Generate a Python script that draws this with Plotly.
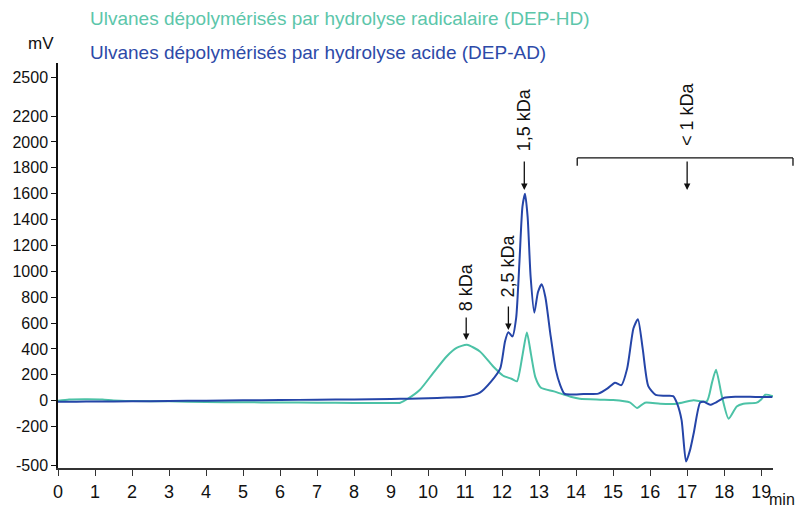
import plotly.graph_objects as go

# ---- data ----
t_ad = [0, 0.5, 1, 2, 3, 4, 5, 6, 7, 8, 9, 9.5, 10, 10.5, 11.0, 11.4, 11.7, 11.95, 12.08, 12.17, 12.28,
        12.38, 12.47, 12.55, 12.62, 12.69, 12.77, 12.87, 12.97, 13.07, 13.17, 13.3, 13.45, 13.57, 13.68,
        13.85, 14.2, 14.6, 14.85, 15.05, 15.22, 15.38, 15.55, 15.67, 15.8, 15.95, 16.15, 16.4, 16.62,
        16.72, 16.85, 16.97, 17.08, 17.18, 17.35, 17.45, 17.62, 17.8, 18.0, 18.3, 18.7, 19.0, 19.3]
v_ad = [-8, -8, -6, -5, -2, 0, 3, 5, 8, 10, 14, 16, 20, 24, 30, 62, 147, 250, 460, 530, 497,
        640, 1080, 1500, 1600, 1420, 960, 680, 840, 900, 800, 525, 240, 120, 55,
        48, 52, 55, 95, 139, 120, 250, 560, 630, 400, 113, 45, 38, 36,
        -15, -150, -470, -380, -247, -15, -8, -31, -10, 23, 31, 30, 29, 28]

t_hd = [0, 0.3, 0.8, 1.2, 1.5, 2, 3, 4, 5, 6, 7, 8, 9, 9.25, 9.45, 9.78, 10.14, 10.5, 10.77, 11.05,
        11.4, 11.76, 12.03, 12.25, 12.4, 12.55, 12.67, 12.78, 12.9, 13.05, 13.4, 13.85, 14.1, 14.65,
        15.0, 15.45, 15.65, 15.86, 16.27, 16.72, 17.17, 17.53, 17.67, 17.78, 17.94, 18.12, 18.34,
        18.52, 18.88, 19.0, 19.11, 19.2, 19.33]
v_hd = [0, 10, 12, 10, 2, -2, -5, -10, -12, -14, -15, -18, -18, -15, 15, 85, 215, 342, 408, 432,
        381, 265, 193, 170, 150, 350, 528, 360, 180, 100, 72, 31, 15, 8,
        5, -13, -56, -15, -23, -23, 3, -5, 138, 240, 33, -139, -44,
        -23, -15, 10, 46, 45, 33]

x_ticks = list(range(0, 20))
y_ticks = [-500, -200, 0, 200, 400, 600, 800, 1000, 1200, 1400, 1600, 1800, 2000, 2200, 2500]

name_hd = "Ulvanes dépolymérisés par hydrolyse radicalaire (DEP-HD)"
name_ad = "Ulvanes dépolymérisés par hydrolyse acide (DEP-AD)"

peaks = [("8 kDa", 11.03, 879, 469, -24),
         ("2,5 kDa", 12.17, 1041, 547, -25),
         ("1,5 kDa", 12.60, 2170, 1629, -30)]

col_hd = "#4cc2a6"
col_ad = "#2545a8"
FONT = "Liberation Sans, Arial, sans-serif"
NARROW = "Liberation Sans Narrow, Arial Narrow, Liberation Sans, sans-serif"

x_range = [0, 19.32]
y_range = [-520, 2610]

fig = go.Figure()
fig.add_trace(go.Scatter(x=t_hd, y=v_hd, mode="lines", line=dict(color=col_hd, width=2, shape="spline", smoothing=0.6),
                         name=name_hd, hoverinfo="skip"))
fig.add_trace(go.Scatter(x=t_ad, y=v_ad, mode="lines", line=dict(color=col_ad, width=2, shape="spline", smoothing=0.6),
                         name=name_ad, hoverinfo="skip"))

ann = []
for txt, x, ytxt, yhead, off in peaks:
    ann.append(dict(x=x, y=ytxt, text=txt, textangle=-90, showarrow=False, xref="x", yref="y",
                    font=dict(size=18, color="#111")))
    ann.append(dict(x=x, y=yhead, text="", showarrow=True, ax=0, ay=off, xref="x", yref="y",
                    arrowhead=2, arrowsize=1, arrowwidth=1.3, arrowcolor="#111"))

# < 1 kDa bracket
lt_x = 17.0
ann.append(dict(x=lt_x, y=2216, text="< 1 kDa", textangle=-90, showarrow=False, xref="x", yref="y",
                font=dict(size=18, color="#111")))
ann.append(dict(x=lt_x, y=1629, text="", showarrow=True, ax=0, ay=-30, xref="x", yref="y",
                arrowhead=2, arrowsize=1, arrowwidth=1.3, arrowcolor="#111"))

def px(t):
    return (t - x_range[0]) / (x_range[1] - x_range[0])

br_l, br_r, br_y, br_y2 = 14.03, 19.86, 1876, 1815
shapes = [
    dict(type="line", xref="paper", yref="y", x0=px(br_l), x1=px(br_r), y0=br_y, y1=br_y, line=dict(color="#111", width=1.3)),
    dict(type="line", xref="paper", yref="y", x0=px(br_l), x1=px(br_l), y0=br_y, y1=br_y2, line=dict(color="#111", width=1.3)),
    dict(type="line", xref="paper", yref="y", x0=px(br_r), x1=px(br_r), y0=br_y, y1=br_y2, line=dict(color="#111", width=1.3)),
]

ann.append(dict(x=0.042, y=1.111, xref="paper", yref="paper", text=name_hd, showarrow=False,
                xanchor="left", yanchor="middle", font=dict(size=19, color="#5cc6aa")))
ann.append(dict(x=0.042, y=1.027, xref="paper", yref="paper", text=name_ad, showarrow=False,
                xanchor="left", yanchor="middle", font=dict(size=19, color="#2d4aa8")))
ann.append(dict(x=-0.024, y=1.049, xref="paper", yref="paper", text="mV", showarrow=False,
                xanchor="center", yanchor="middle", font=dict(size=17, color="#111")))
ann.append(dict(x=1.033, y=-0.078, xref="paper", yref="paper", text="min", showarrow=False,
                xanchor="right", yanchor="middle", font=dict(size=16, family=NARROW, color="#111")))

fig.update_layout(
    width=798, height=510,
    margin=dict(l=58, r=25, t=63, b=42, autoexpand=False),
    plot_bgcolor="white", paper_bgcolor="white",
    showlegend=False,
    font=dict(family=FONT, size=16, color="#111"),
    annotations=ann, shapes=shapes,
    xaxis=dict(range=x_range, tickvals=x_ticks, ticktext=[str(v) for v in x_ticks], showgrid=False, zeroline=False,
               showline=True, linecolor="#333", linewidth=2, ticks="outside", ticklen=6, tickcolor="#333",
               tickfont=dict(size=18, family=NARROW), automargin=False),
    yaxis=dict(range=y_range, tickvals=y_ticks, ticktext=[str(v) for v in y_ticks], showgrid=False, zeroline=False,
               showline=True, linecolor="#111", linewidth=1.5, ticks="outside", ticklen=5, tickcolor="#111",
               tickfont=dict(size=16), automargin=False),
)

fig.write_html("out.html", config={"displayModeBar": False},
               post_script="document.body.style.margin='0px';document.body.style.overflow='hidden';")
